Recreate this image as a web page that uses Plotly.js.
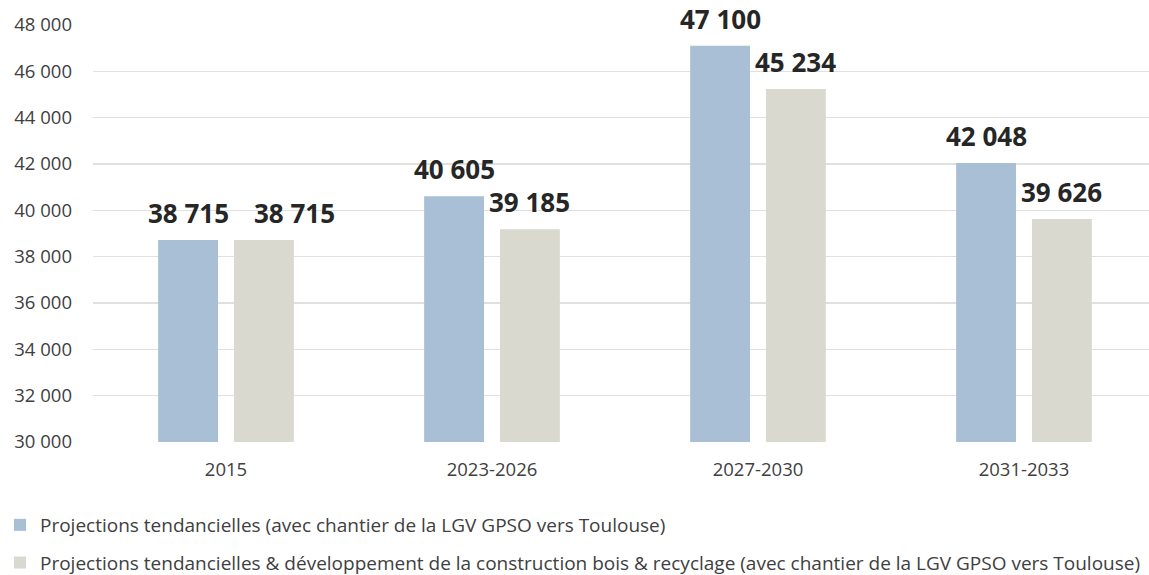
<!DOCTYPE html>
<html>
<head>
<meta charset="utf-8">
<script src="https://cdn.plot.ly/plotly-3.0.1.min.js"></script>
<style>html,body{margin:0;padding:0;background:#fff;overflow:hidden}#chart{width:1149px;height:575px}</style>
</head>
<body>
<div id="chart"></div>
<script>
const categories = ["2015", "2023-2026", "2027-2030", "2031-2033"];
const seriesNames = [
  "Projections tendancielles (avec chantier de la LGV GPSO vers Toulouse)",
  "Projections tendancielles & développement de la construction bois & recyclage (avec chantier de la LGV GPSO vers Toulouse)"
];
const tendancielles = [38715, 40605, 47100, 42048];
const boisRecyclage = [38715, 39185, 45234, 39626];
const yTicks = [30000, 32000, 34000, 36000, 38000, 40000, 42000, 44000, 46000, 48000];
const yTickLabels = ["30 000", "32 000", "34 000", "36 000", "38 000", "40 000", "42 000", "44 000", "46 000", "48 000"];

function fmt(v) { return String(v).replace(/\B(?=(\d{3})+(?!\d))/g, " "); }

const colors = ["#a8bfd6", "#d9d9cf"];
const allSeries = [tendancielles, boisRecyclage];

const W = 1149, H = 575;
const margin = { l: 93, r: 0, t: 25, b: 133 };
const xRange = [-0.5, 3.47];
const yRange = [30000, 48000];
const bargap = 0.43;
const pxPerCat = (W - margin.l - margin.r) / (xRange[1] - xRange[0]);
const pxPerUnit = (H - margin.t - margin.b) / (yRange[1] - yRange[0]);
const slotPx = pxPerCat * (1 - bargap) / 2;
const labelFont = 26;
const labelWidthPx = 82;   // approx. width of a bold "00 000" label
const labelGapPx = 24;     // minimum horizontal gap between side-by-side labels

const traces = allSeries.map((vals, i) => ({
  type: "bar",
  name: seriesNames[i],
  legendgroup: "g" + i,
  x: categories,
  y: vals,
  marker: { color: colors[i], line: { width: 0 } },
  hoverinfo: "skip"
}));

const annotations = [];
allSeries.forEach((vals, i) => {
  vals.forEach((v, j) => {
    let shift = (i === 0 ? -1 : 1) * slotPx / 2;
    if (i === 1) {
      // avoid overlapping with the neighbouring label at the same height
      const dyPx = Math.abs(tendancielles[j] - v) * pxPerUnit;
      if (dyPx < labelFont) {
        const needed = labelWidthPx + labelGapPx - slotPx;
        if (needed > 0) shift += needed;
      }
    }
    annotations.push({
      x: j, y: v, xref: "x", yref: "y",
      text: "<b>" + fmt(v) + "</b>",
      showarrow: false,
      xanchor: "center", yanchor: "bottom",
      xshift: shift,
      yshift: 7,
      font: { family: "Open Sans", size: labelFont, color: "#262626" }
    });
  });
});

const layout = {
  width: W, height: H,
  margin: margin,
  paper_bgcolor: "#fff", plot_bgcolor: "#fff",
  font: { family: "Open Sans", size: 18.5, color: "#404040" },
  barmode: "group",
  bargap: bargap,
  bargroupgap: 0.21,
  annotations: annotations,
  xaxis: {
    type: "category",
    range: xRange,
    automargin: false,
    showgrid: false, zeroline: false, showline: false,
    ticks: "", ticklabelstandoff: 14, tickangle: 0,
    tickfont: { family: "Open Sans", size: 18.5, color: "#404040" }
  },
  yaxis: {
    range: yRange,
    automargin: false,
    tickvals: yTicks, ticktext: yTickLabels,
    showgrid: true, gridcolor: "#e0e0e0", gridwidth: 1.5,
    zeroline: false, showline: false, ticks: "",
    ticklabelstandoff: 20,
    tickfont: { family: "Open Sans", size: 18.5, color: "#404040" }
  },
  showlegend: true,
  legend: {
    orientation: "v",
    xref: "paper", yref: "container",
    x: -93 / 1056, y: 1 - 506 / 575, xanchor: "left", yanchor: "top",
    font: { family: "Open Sans", size: 19, color: "#404040" },
    traceorder: "grouped",
    tracegroupgap: 10,
    itemwidth: 30,
    borderwidth: 0,
    bgcolor: "rgba(0,0,0,0)"
  }
};

Plotly.newPlot("chart", traces, layout, { displayModeBar: false, staticPlot: true });
</script>
</body>
</html>
